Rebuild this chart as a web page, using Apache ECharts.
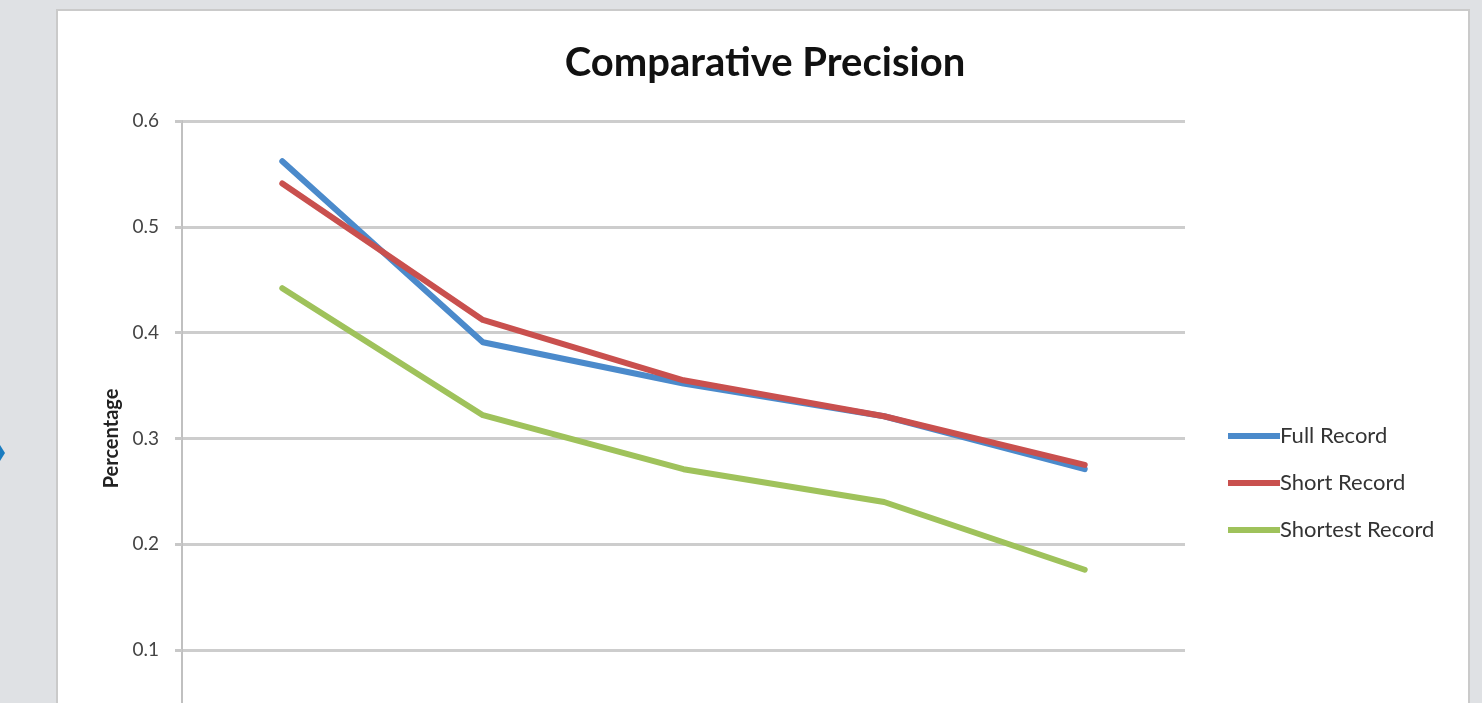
<!DOCTYPE html>
<html>
<head>
<meta charset="utf-8">
<script src="https://cdn.jsdelivr.net/npm/echarts@6/dist/echarts.min.js"></script>
<style>
  html, body { margin: 0; padding: 0; width: 1482px; height: 703px; overflow: hidden; background: #dfe1e4; }
  #panel { position: absolute; left: 56px; top: 9px; width: 1410px; height: 760px; background: #ffffff; border: 2px solid #cacaca; }
  #chart { position: absolute; left: 0; top: 0; width: 1482px; height: 800px; }
</style>
</head>
<body>
<div id="panel"></div>
<div id="chart"></div>
<script>
const categories = ['1', '2', '3', '4', '5'];
const fullRecord = [0.562, 0.391, 0.352, 0.321, 0.271];
const shortRecord = [0.541, 0.412, 0.355, 0.321, 0.275];
const shortestRecord = [0.442, 0.322, 0.271, 0.240, 0.176];
const yTicks = [0, 0.1, 0.2, 0.3, 0.4, 0.5, 0.6];

const chart = echarts.init(document.getElementById('chart'), null, { renderer: 'canvas' });
const fontFam = 'Lato, "Open Sans", sans-serif';
function lineSeries(name, data, color) {
  return {
    name: name, type: 'line', data: data, showSymbol: false, symbol: 'none',
    lineStyle: { color: color, width: 6, cap: 'round', join: 'round' },
    itemStyle: { color: color }
  };
}
chart.setOption({
  backgroundColor: 'transparent',
  animation: false,
  title: {
    text: 'Comparative Precision', left: 760, top: 38, textAlign: 'center',
    textStyle: { fontFamily: fontFam, fontSize: 40, fontWeight: 'bold', color: '#111' }
  },
  legend: {
    orient: 'vertical', left: 1228, top: 424, padding: 0,
    itemWidth: 52, itemHeight: 6, itemGap: 23, icon: 'rect',
    textStyle: { fontFamily: fontFam, fontSize: 22, color: '#333', lineHeight: 24, padding: [0, 0, 0, -5] },
    data: ['Full Record', 'Short Record', 'Shortest Record']
  },
  grid: { left: 182, right: 1482 - 1185, top: 121, bottom: 44, containLabel: false },
  xAxis: {
    type: 'category', data: categories, boundaryGap: true,
    axisLine: { lineStyle: { color: '#c8c8c8', width: 2 } },
    axisTick: { show: false }, axisLabel: { show: false }
  },
  yAxis: {
    type: 'value', min: yTicks[0], max: yTicks[yTicks.length - 1], interval: 0.1,
    name: 'Percentage', nameLocation: 'middle', nameGap: 60,
    nameTextStyle: { fontFamily: fontFam, fontSize: 20, fontWeight: 'bold', color: '#222' },
    axisLine: { show: true, lineStyle: { color: '#c0c0c0', width: 2 } },
    axisTick: { show: true, length: 7, lineStyle: { color: '#c8c8c8', width: 3 } },
    axisLabel: { margin: 23, fontFamily: fontFam, fontSize: 19, color: '#444',
      formatter: function (v) { return v === 0 ? '0' : v.toFixed(1); } },
    splitLine: { lineStyle: { color: '#cdcdcd', width: 3 } }
  },
  graphic: [{
    type: 'polygon', shape: { points: [[0, 445], [5, 453], [0, 461], [-3, 453]] },
    style: { fill: '#1a7cc0' }
  }],
  series: [
    lineSeries('Full Record', fullRecord, '#4b8acb'),
    lineSeries('Short Record', shortRecord, '#c9504e'),
    lineSeries('Shortest Record', shortestRecord, '#9fc25b')
  ]
});
</script>
</body>
</html>
